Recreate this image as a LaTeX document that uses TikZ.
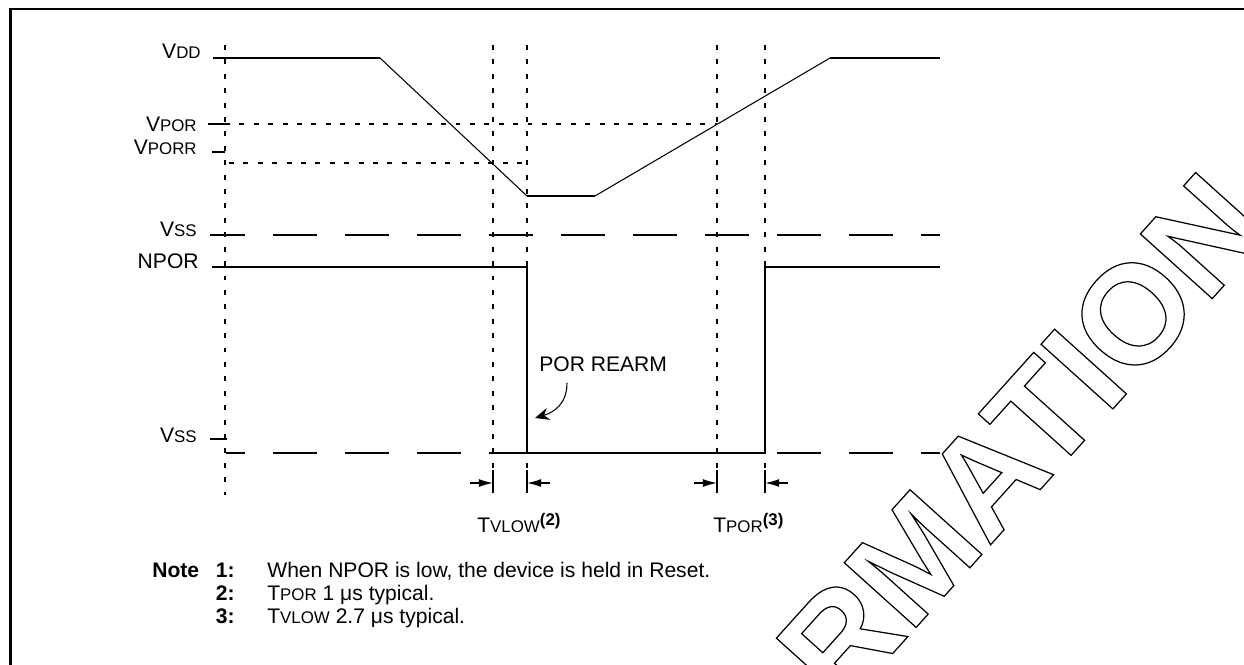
\documentclass[tikz,border=0pt]{standalone}
\usepackage{fontspec}
\setmainfont{Liberation Sans}
\usetikzlibrary{arrows.meta}
\makeatletter
\newcommand\smcap[1]{{\fontsize{\strip@pt\dimexpr0.8\dimexpr\f@size pt\relax\relax}{0}\selectfont#1}}
\makeatother
\newcommand\fnref[1]{\raisebox{0.55ex}{\smcap{\bfseries(#1)}}}
\newcommand\outlined[1]{\special{pdf:literal direct 1 Tr 0.7 w}#1\special{pdf:literal direct 0 Tr}}
\tikzset{
  lvl/.style={line width=1.1pt},
  ramp/.style={line width=0.6pt},
  guide/.style={line width=1pt, dash pattern=on 2.8pt off 5.4pt},
  gnd/.style={line width=1.1pt, dash pattern=on 0.88cm off 0.56cm},
  lbl/.style={anchor=base east, inner sep=0pt, font=\fontsize{12}{14}\selectfont},
  txt/.style={anchor=base west, inner sep=0pt, font=\fontsize{12}{14}\selectfont},
  dim/.style={line width=0.8pt, -{Latex[length=8pt,width=4.5pt]}},
}
\begin{document}
\begin{tikzpicture}[x=0.02cm,y=-0.02cm]
  \useasboundingbox (0,0) rectangle (1244,665);
  % frame (only top and left edge in view)
  \draw[line width=1.7pt] (10.5,665) -- (10.5,9) -- (1244,9);
  % watermark
  \begin{scope}
    \clip (12,11) rectangle (1244,665);
    \node[rotate=48, anchor=base east, inner sep=0pt, font=\fontsize{80}{82}\selectfont\bfseries] (wmark) at (1274,230)
      {\outlined{INFORMATION}};
  \end{scope}
  % dotted guides
  \foreach \x in {493,527,717,765} { \draw[guide] (\x,45) -- (\x,470); }
  \draw[guide] (225,45) -- (225,495);
  \draw[guide] (225,124) -- (717,124);
  \draw[guide] (229,163) -- (527,163);
  % level ticks
  \draw[lvl] (208,124) -- (225,124);
  \draw[lvl] (212,152) -- (225,152);
  \draw[lvl] (210,439) -- (227,439);
  % VDD
  \draw[lvl] (213,58) -- (380,58);
  \draw[ramp] (380,58) -- (527,196);
  \draw[lvl] (527,196) -- (595,196);
  \draw[ramp] (595,196) -- (830,58);
  \draw[lvl] (830,58) -- (940,58);
  % VSS levels
  \draw[gnd, dash phase=0.18cm] (210,235) -- (940,235);
  \draw[gnd, dash phase=0.5cm] (226,453) -- (940,453);
  % NPOR
  \draw[lvl] (212,267) -- (527,267) -- (527,453) -- (765,453) -- (765,267) -- (940,267);
  % timing markers
  \foreach \x/\d in {493/-1,527/1,717/-1,765/1} {
    \draw[lvl] (\x,470) -- (\x,493);
    \draw[dim] ({\x+\d*23},483) -- (\x,483);
  }
  % labels
  \node[lbl] (vdd) at (201,59) {V\smcap{DD}};
  \node[lbl] (vpor) at (197,132) {V\smcap{POR}};
  \node[lbl] (vporr) at (197,155) {V\smcap{PORR}};
  \node[lbl] (vss1) at (197,237) {V\smcap{SS}};
  \node[lbl] (npor) at (199,269) {NPOR};
  \node[lbl] (vss2) at (197,442) {V\smcap{SS}};
  \node[txt] (tvlow) at (477,532) {T\smcap{VLOW}\fnref{2}};
  \node[txt] (tpor) at (713,532) {T\smcap{POR}\fnref{3}};
  \node[txt] (rearm) at (539,372) {POR REARM};
  \coordinate (rearmtail) at (567,383);
  \coordinate (rearmtip) at (535,418);
  \draw[line width=0.6pt, -{Stealth[length=8pt,width=7pt]}]
    (rearmtail) .. controls (567,403) and (555,412) .. (rearmtip);
  % notes
  \node[anchor=base west, inner sep=0pt, font=\fontsize{12}{14}\selectfont\bfseries] (notehd) at (152,577) {Note};
  \foreach \n/\t in {1/{When NPOR is low, the device is held in Reset.},
                     2/{T\smcap{POR} 1 μs typical.},
                     3/{T\smcap{VLOW} 2.7 μs typical.}} {
    \node[anchor=base east, inner sep=0pt, font=\fontsize{12}{14}\selectfont\bfseries] (num\n) at (235,{577+23*(\n-1)}) {\n:};
    \node[anchor=base west, inner sep=0pt, font=\fontsize{12}{14}\selectfont] (note\n) at (267,{577+23*(\n-1)}) {\t};
  }
\end{tikzpicture}
\end{document}
